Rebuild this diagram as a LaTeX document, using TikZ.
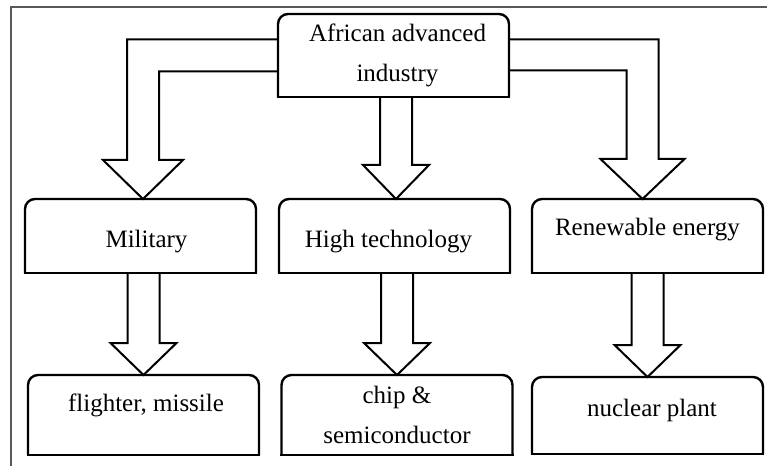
\documentclass[tikz,border=0pt]{standalone}
\usepackage{fontspec}
\setmainfont{Liberation Serif}
\usetikzlibrary{calc}
\tikzset{
	box/.style={rectangle,minimum width=231pt,inner sep=0pt,outer sep=0pt},
	boxline/.style={line width=2.4pt,black},
	arrowline/.style={line width=2pt,black,line join=miter},
	txt/.style={font=\fontsize{25}{40}\selectfont,align=center,inner sep=0pt}
}
% hollow block arrow going down from node #2 to point #3, head height #1
\newcommand{\hollowarrow}[3][33pt]{%
	\draw[arrowline] let \p1=(#2.south), \p2=(#3) in
		(\x2-16pt,\y1) -- (\x2-16pt,\y2+#1) -- (\x2-33pt,\y2+#1) -- (\x2,\y2)
		-- (\x2+33pt,\y2+#1) -- (\x2+16pt,\y2+#1) -- (\x2+16pt,\y1);}

\begin{document}
\begin{tikzpicture}[x=1pt,y=1pt]
	\useasboundingbox (0,0) rectangle (767,466);
	\draw[black!65,line width=2pt] (767,459) -- (11,459) -- (11,0);

	\node [box,minimum height=83pt,label={[txt,name=toptext,xshift=4pt]center:{African advanced\\industry}}] (top) at (393.5,410.5) {};

	\node [box,minimum height=74pt,label={[txt,name=miltext,xshift=6pt,yshift=-6pt]center:Military}] (mil) at (140.5,230) {};
	\node [box,minimum height=74pt,label={[txt,name=techtext,xshift=-6pt,yshift=-6pt]center:High technology}] (tech) at (394.5,230) {};
	\node [box,minimum height=74pt,label={[txt,name=rentext,yshift=6pt]center:Renewable energy}] (ren) at (647.5,230) {};

	\node [box,minimum height=80pt,label={[txt,name=fltext,xshift=2.5pt,yshift=10pt]center:flighter, missile}] (fl) at (143.5,51) {};
	\node [box,minimum height=80pt,label={[txt,name=chiptext]center:{chip \&\\semiconductor}}] (chip) at (397,51) {};
	\node [box,minimum height=77pt,label={[txt,name=nuctext,xshift=4.5pt,yshift=5pt]center:nuclear plant}] (nuc) at (647.5,50.5) {};

	% boxes: round top, square bottom
	\foreach \n in {top,mil,tech,ren,fl,chip,nuc}{
		\draw[boxline,rounded corners=10pt] (\n.south west) -- (\n.north west) -- (\n.north east) -- (\n.south east);
		\draw[boxline,line cap=rect] (\n.south west) -- (\n.south east);
	}

	% bent arrows
	\draw[arrowline] let \p1=(top.west), \p2=([xshift=2.5pt]mil.north) in
		(\x1,\y1+16pt) -| (\x2-16pt,\y2+39pt) -- (\x2-40pt,\y2+39pt) -- (\x2,\y2)
		-- (\x2+40pt,\y2+39pt) -- (\x2+16pt,\y2+39pt) |- (\x1,\y1-16pt);
	\draw[arrowline] let \p1=(top.east), \p2=([xshift=-5pt]ren.north) in
		(\x1,\y1+16pt) -| (\x2+16pt,\y2+40pt) -- (\x2+42pt,\y2+40pt) -- (\x2,\y2)
		-- (\x2-42pt,\y2+40pt) -- (\x2-16pt,\y2+40pt) |- (\x1,\y1-15pt);

	% straight arrows
	\hollowarrow[34pt]{top}{[xshift=1.5pt]tech.north}
	\hollowarrow[32pt]{mil}{fl.north}
	\hollowarrow[32pt]{tech}{chip.north}
	\hollowarrow[32pt]{ren}{nuc.north}
\end{tikzpicture}
\end{document}
